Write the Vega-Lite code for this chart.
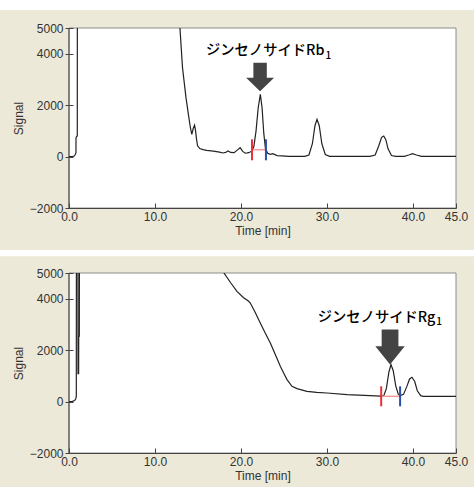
{
  "$schema": "https://vega.github.io/schema/vega-lite/v6.json",
  "background": "white",
  "padding": {"top": 9, "left": 0, "right": 0, "bottom": 0},
  "spacing": 6,
  "config": {
    "view": {"stroke": null},
    "axis": {"grid": false, "labelFont": "Liberation Sans", "labelFontSize": 12, "labelColor": "#333333", "titleFont": "Liberation Sans", "titleFontSize": 12, "titleColor": "#333333", "titleFontWeight": "normal", "domainColor": "#444444", "tickColor": "#444444"}
  },
  "datasets": {
    "rb1": [
      {"t": 0, "v": 0}, {"t": 0.45, "v": 5}, {"t": 0.6, "v": 20}, {"t": 0.72, "v": 70}, {"t": 0.81, "v": 150}, {"t": 0.815, "v": 730}, {"t": 0.9, "v": 790}, {"t": 0.965, "v": 800}, {"t": 0.97, "v": 5600},
      {"t": 12.75, "v": 5600}, {"t": 12.9, "v": 5000}, {"t": 13.2, "v": 3450}, {"t": 13.6, "v": 2300}, {"t": 13.9, "v": 1600}, {"t": 14.1, "v": 1150}, {"t": 14.28, "v": 860}, {"t": 14.45, "v": 1100}, {"t": 14.6, "v": 1220}, {"t": 14.72, "v": 1000}, {"t": 14.82, "v": 700}, {"t": 14.95, "v": 420}, {"t": 15.2, "v": 310}, {"t": 15.6, "v": 270}, {"t": 16.0, "v": 240}, {"t": 16.8, "v": 210}, {"t": 17.5, "v": 170}, {"t": 17.9, "v": 140}, {"t": 18.2, "v": 160}, {"t": 18.5, "v": 220}, {"t": 18.8, "v": 160}, {"t": 19.2, "v": 150}, {"t": 19.6, "v": 260}, {"t": 19.9, "v": 345}, {"t": 20.2, "v": 200}, {"t": 20.5, "v": 130}, {"t": 20.9, "v": 150}, {"t": 21.3, "v": 220}, {"t": 21.5, "v": 400}, {"t": 21.75, "v": 1000}, {"t": 22.0, "v": 1900}, {"t": 22.25, "v": 2420}, {"t": 22.45, "v": 1900}, {"t": 22.65, "v": 900}, {"t": 22.85, "v": 300}, {"t": 23.1, "v": 130}, {"t": 23.4, "v": 90}, {"t": 23.7, "v": 110}, {"t": 24.2, "v": 40}, {"t": 24.8, "v": 30}, {"t": 25.5, "v": 10},
      {"t": 27.4, "v": 10}, {"t": 27.9, "v": 60}, {"t": 28.3, "v": 500}, {"t": 28.6, "v": 1200}, {"t": 28.84, "v": 1450}, {"t": 29.1, "v": 1200}, {"t": 29.4, "v": 500}, {"t": 29.8, "v": 80}, {"t": 30.3, "v": 10},
      {"t": 35.0, "v": 10}, {"t": 35.6, "v": 60}, {"t": 36.0, "v": 400}, {"t": 36.35, "v": 750}, {"t": 36.6, "v": 800}, {"t": 36.85, "v": 650}, {"t": 37.1, "v": 300}, {"t": 37.5, "v": 40}, {"t": 38.0, "v": 10},
      {"t": 39.0, "v": 10}, {"t": 39.5, "v": 60}, {"t": 39.95, "v": 110}, {"t": 40.4, "v": 60}, {"t": 41.0, "v": 10}, {"t": 45, "v": 10}
    ],
    "rg1": [
      {"t": 0, "v": 0}, {"t": 0.4, "v": 10}, {"t": 0.65, "v": 40}, {"t": 0.78, "v": 100}, {"t": 0.85, "v": 200}, {"t": 0.86, "v": 5500}, {"t": 1.04, "v": 5500}, {"t": 1.05, "v": 1090}, {"t": 1.12, "v": 1090}, {"t": 1.13, "v": 2540}, {"t": 1.2, "v": 2540}, {"t": 1.21, "v": 5500},
      {"t": 17.6, "v": 5500}, {"t": 18.02, "v": 5000}, {"t": 18.8, "v": 4620}, {"t": 19.53, "v": 4288}, {"t": 20.3, "v": 4040}, {"t": 20.9, "v": 3899}, {"t": 21.08, "v": 3833}, {"t": 21.6, "v": 3500}, {"t": 22.24, "v": 3056}, {"t": 22.8, "v": 2680}, {"t": 23.41, "v": 2278}, {"t": 24.0, "v": 1820}, {"t": 24.57, "v": 1372}, {"t": 25.0, "v": 1080}, {"t": 25.35, "v": 854}, {"t": 25.93, "v": 594}, {"t": 26.51, "v": 504}, {"t": 27.67, "v": 400}, {"t": 28.8, "v": 360}, {"t": 30.0, "v": 334}, {"t": 32.33, "v": 271}, {"t": 35.0, "v": 232}, {"t": 36.2, "v": 210},
      {"t": 36.6, "v": 230}, {"t": 36.9, "v": 500}, {"t": 37.2, "v": 1150}, {"t": 37.44, "v": 1440}, {"t": 37.7, "v": 1200}, {"t": 38.0, "v": 600}, {"t": 38.3, "v": 280}, {"t": 38.5, "v": 232}, {"t": 38.9, "v": 280}, {"t": 39.3, "v": 600}, {"t": 39.6, "v": 880}, {"t": 39.88, "v": 945}, {"t": 40.2, "v": 780}, {"t": 40.5, "v": 420}, {"t": 40.9, "v": 230}, {"t": 41.2, "v": 205}, {"t": 45, "v": 205}
    ],
    "rb1_marks": [
      {"t": 21.28, "lo": -145, "hi": 671, "kind": "start"},
      {"t": 22.9, "lo": -145, "hi": 671, "kind": "end"}
    ],
    "rg1_marks": [
      {"t": 36.3, "lo": -184, "hi": 594, "kind": "start"},
      {"t": 38.5, "lo": -184, "hi": 594, "kind": "end"}
    ],
    "rb1_base": [{"t1": 21.28, "t2": 22.9, "v": 267}],
    "rg1_base": [{"t1": 36.3, "t2": 38.5, "v": 205}],
    "rb1_arrow": [{"t": 22.22, "v": 3083}],
    "rg1_arrow": [{"t": 37.33, "v": 2118}],
    "rb1_label": [{"t": 29.7, "v": 3950, "label": "ジンセノサイドRb"}],
    "rb1_sub": [{"t": 29.7, "v": 3783, "label": "1"}],
    "rg1_label": [{"t": 42.6, "v": 3083, "label": "ジンセノサイドRg"}],
    "rg1_sub": [{"t": 42.6, "v": 2993, "label": "1"}]
  },
  "vconcat": [
    {
      "width": 387,
      "height": 180,
      "layer": [
        {
          "data": {"values": [{}]},
          "mark": {"type": "rect", "color": "#ece9d8"},
          "encoding": {
            "x": {"datum": -8.02, "type": "quantitative", "scale": {"domain": [0, 45], "nice": false, "zero": false},
              "axis": {"title": "Time [min]", "zindex": 2, "values": [0, 10, 20, 30, 40, 45], "format": ".1f", "tickSize": -5, "labelPadding": 8, "labelFlush": false, "titlePadding": 3}},
            "x2": {"datum": 47.12},
            "y": {"datum": 5700, "type": "quantitative", "scale": {"domain": [-2000, 5000], "nice": false, "zero": false},
              "axis": {"title": "Signal", "zindex": 2, "values": [-2000, 0, 2000, 4000, 5000], "format": "d", "offset": -4, "tickSize": 8, "domain": false, "labelPadding": 2, "titlePadding": 4}},
            "y2": {"datum": -3633}
          }
        },
        {
          "data": {"values": [{}]},
          "mark": {"type": "rect", "fill": "white", "stroke": "#8c8c8c", "strokeWidth": 1},
          "encoding": {"x": {"datum": 0, "type": "quantitative"}, "x2": {"datum": 45}, "y": {"datum": -2000, "type": "quantitative"}, "y2": {"datum": 5000}}
        },
        {
          "data": {"values": [{}]},
          "mark": {"type": "rule", "color": "#444444", "strokeWidth": 1},
          "encoding": {"x": {"datum": 0, "type": "quantitative"}}
        },
        {
          "data": {"name": "rb1"},
          "mark": {"type": "line", "clip": true, "color": "#222222", "strokeWidth": 1.2},
          "encoding": {"x": {"field": "t", "type": "quantitative"}, "y": {"field": "v", "type": "quantitative"}, "order": {"value": null}}
        },
        {
          "data": {"name": "rb1_base"},
          "mark": {"type": "rule", "color": "#f29a9a", "strokeWidth": 1.5},
          "encoding": {"x": {"field": "t1", "type": "quantitative"}, "x2": {"field": "t2"}, "y": {"field": "v", "type": "quantitative"}}
        },
        {
          "data": {"name": "rb1_marks"},
          "mark": {"type": "rule", "strokeWidth": 2},
          "encoding": {"x": {"field": "t", "type": "quantitative"}, "y": {"field": "lo", "type": "quantitative"}, "y2": {"field": "hi"},
            "color": {"field": "kind", "type": "nominal", "scale": {"domain": ["start", "end"], "range": ["#e8323c", "#2a4fa8"]}, "legend": null}}
        },
        {
          "data": {"name": "rb1_arrow"},
          "mark": {"type": "point", "shape": "M-0.48,-1.04L0.48,-1.04L0.48,0.03L1,0.03L0,1L-1,0.03L-0.48,0.03Z", "size": 784, "filled": true, "color": "#444444", "opacity": 1, "strokeWidth": 0},
          "encoding": {"x": {"field": "t", "type": "quantitative"}, "y": {"field": "v", "type": "quantitative"}}
        },
        {
          "data": {"name": "rb1_label"},
          "mark": {"type": "text", "align": "right", "baseline": "alphabetic", "font": "Noto Sans CJK JP", "fontSize": 14.3, "fontWeight": 500, "color": "#000000"},
          "encoding": {"x": {"field": "t", "type": "quantitative"}, "y": {"field": "v", "type": "quantitative"}, "text": {"field": "label"}}
        },
        {
          "data": {"name": "rb1_sub"},
          "mark": {"type": "text", "align": "left", "baseline": "alphabetic", "dx": 1, "font": "Noto Sans CJK JP", "fontSize": 10, "fontWeight": 500, "color": "#000000"},
          "encoding": {"x": {"field": "t", "type": "quantitative"}, "y": {"field": "v", "type": "quantitative"}, "text": {"field": "label"}}
        }
      ]
    },
    {
      "width": 387,
      "height": 180,
      "layer": [
        {
          "data": {"values": [{}]},
          "mark": {"type": "rect", "color": "#ece9d8"},
          "encoding": {
            "x": {"datum": -8.02, "type": "quantitative", "scale": {"domain": [0, 45], "nice": false, "zero": false},
              "axis": {"title": "Time [min]", "zindex": 2, "values": [0, 10, 20, 30, 40, 45], "format": ".1f", "tickSize": -5, "labelPadding": 8, "labelFlush": false, "titlePadding": 3}},
            "x2": {"datum": 47.12},
            "y": {"datum": 5650, "type": "quantitative", "scale": {"domain": [-2000, 5000], "nice": false, "zero": false},
              "axis": {"title": "Signal", "zindex": 2, "values": [-2000, 0, 2000, 4000, 5000], "format": "d", "offset": -4, "tickSize": 8, "domain": false, "labelPadding": 2, "titlePadding": 4}},
            "y2": {"datum": -3373}
          }
        },
        {
          "data": {"values": [{}]},
          "mark": {"type": "rect", "fill": "white", "stroke": "#8c8c8c", "strokeWidth": 1},
          "encoding": {"x": {"datum": 0, "type": "quantitative"}, "x2": {"datum": 45}, "y": {"datum": -2000, "type": "quantitative"}, "y2": {"datum": 5000}}
        },
        {
          "data": {"values": [{}]},
          "mark": {"type": "rule", "color": "#444444", "strokeWidth": 1},
          "encoding": {"x": {"datum": 0, "type": "quantitative"}}
        },
        {
          "data": {"name": "rg1"},
          "mark": {"type": "line", "clip": true, "color": "#222222", "strokeWidth": 1.2},
          "encoding": {"x": {"field": "t", "type": "quantitative"}, "y": {"field": "v", "type": "quantitative"}, "order": {"value": null}}
        },
        {
          "data": {"name": "rg1_base"},
          "mark": {"type": "rule", "color": "#f29a9a", "strokeWidth": 1.5},
          "encoding": {"x": {"field": "t1", "type": "quantitative"}, "x2": {"field": "t2"}, "y": {"field": "v", "type": "quantitative"}}
        },
        {
          "data": {"name": "rg1_marks"},
          "mark": {"type": "rule", "strokeWidth": 2},
          "encoding": {"x": {"field": "t", "type": "quantitative"}, "y": {"field": "lo", "type": "quantitative"}, "y2": {"field": "hi"},
            "color": {"field": "kind", "type": "nominal", "scale": {"domain": ["start", "end"], "range": ["#e8323c", "#2a4fa8"]}, "legend": null}}
        },
        {
          "data": {"name": "rg1_arrow"},
          "mark": {"type": "point", "shape": "M-0.57,-1.19L0.57,-1.19L0.57,-0.05L1,-0.05L0,1.19L-1,-0.05L-0.57,-0.05Z", "size": 864, "filled": true, "color": "#444444", "opacity": 1, "strokeWidth": 0},
          "encoding": {"x": {"field": "t", "type": "quantitative"}, "y": {"field": "v", "type": "quantitative"}}
        },
        {
          "data": {"name": "rg1_label"},
          "mark": {"type": "text", "align": "right", "baseline": "alphabetic", "font": "Noto Sans CJK JP", "fontSize": 14.3, "fontWeight": 500, "color": "#000000"},
          "encoding": {"x": {"field": "t", "type": "quantitative"}, "y": {"field": "v", "type": "quantitative"}, "text": {"field": "label"}}
        },
        {
          "data": {"name": "rg1_sub"},
          "mark": {"type": "text", "align": "left", "baseline": "alphabetic", "dx": 1, "font": "Noto Sans CJK JP", "fontSize": 10, "fontWeight": 500, "color": "#000000"},
          "encoding": {"x": {"field": "t", "type": "quantitative"}, "y": {"field": "v", "type": "quantitative"}, "text": {"field": "label"}}
        }
      ]
    }
  ]
}
